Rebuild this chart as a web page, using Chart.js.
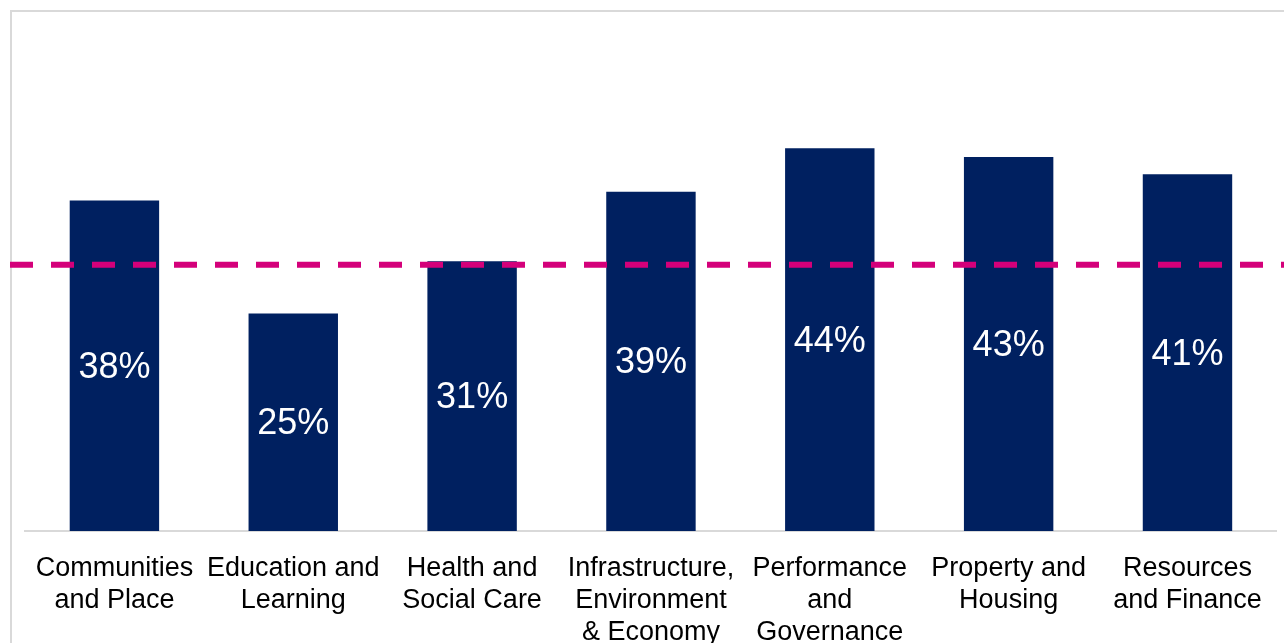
<!DOCTYPE html>
<html>
<head>
<meta charset="utf-8">
<script src="https://cdn.jsdelivr.net/npm/chart.js@4"></script>
<style>
  html, body { margin: 0; padding: 0; background: #fff; }
  #wrap { position: relative; width: 1284px; height: 643px; }
  #frame { position: absolute; left: 10px; top: 10px; right: -4px; bottom: -4px;
           border-left: 2px solid #d9d9d9; border-top: 2px solid #d9d9d9; }
  canvas { position: absolute; left: 0; top: 0; }
</style>
</head>
<body>
<div id="wrap">
  <div id="frame"></div>
  <canvas id="bar-chart" width="1284" height="643"></canvas>
</div>
<script>
var categories = [
  ["Communities", "and Place"],
  ["Education and", "Learning"],
  ["Health and", "Social Care"],
  ["Infrastructure,", "Environment", "& Economy"],
  ["Performance", "and", "Governance"],
  ["Property and", "Housing"],
  ["Resources", "and Finance"]
];
var values = [38, 25, 31, 39, 44, 43, 41];
var benchmark = 30.6;

// white % labels in the middle of each bar
var barLabels = {
  id: 'barLabels',
  afterDatasetsDraw: function(chart) {
    var ctx = chart.ctx;
    var meta = chart.getDatasetMeta(0);
    ctx.save();
    ctx.fillStyle = '#ffffff';
    ctx.font = '36px "Liberation Sans", Arial, sans-serif';
    ctx.textAlign = 'center';
    ctx.textBaseline = 'middle';
    meta.data.forEach(function(bar, i) {
      ctx.fillText(values[i] + '%', bar.x, (bar.y + bar.base) / 2 + 2);
    });
    ctx.restore();
  }
};

// dashed benchmark line across the whole width
var benchLine = {
  id: 'benchLine',
  afterDatasetsDraw: function(chart) {
    var ctx = chart.ctx;
    var y = chart.scales.y.getPixelForValue(benchmark);
    ctx.save();
    ctx.strokeStyle = '#d4007a';
    ctx.lineWidth = 6;
    ctx.setLineDash([23, 18]);
    ctx.beginPath();
    ctx.moveTo(10, y);
    ctx.lineTo(chart.width, y);
    ctx.stroke();
    ctx.restore();
  }
};

new Chart(document.getElementById("bar-chart"), {
    type: 'bar',
    data: {
      labels: categories,
      datasets: [{
          label: "Share",
          data: values,
          backgroundColor: "#002060",
          categoryPercentage: 1.0,
          barPercentage: 0.5
      }]
    },
    plugins: [barLabels, benchLine],
    options: {
      responsive: false,
      animation: false,
      layout: { padding: { left: 25, right: 3, top: 9, bottom: -28 } },
      plugins: {
        legend: { display: false },
        tooltip: { enabled: false }
      },
      scales: {
        x: {
          grid: { display: false, drawTicks: false },
          border: { display: true, color: '#d9d9d9', width: 2 },
          ticks: {
            color: '#000',
            autoSkip: false,
            maxRotation: 0,
            minRotation: 0,
            padding: 22,
            font: { family: '"Liberation Sans", Arial, sans-serif', size: 27, lineHeight: 1.185 }
          }
        },
        y: {
          display: false,
          min: 0,
          max: 60
        }
      }
    }
});
</script>
</body>
</html>
